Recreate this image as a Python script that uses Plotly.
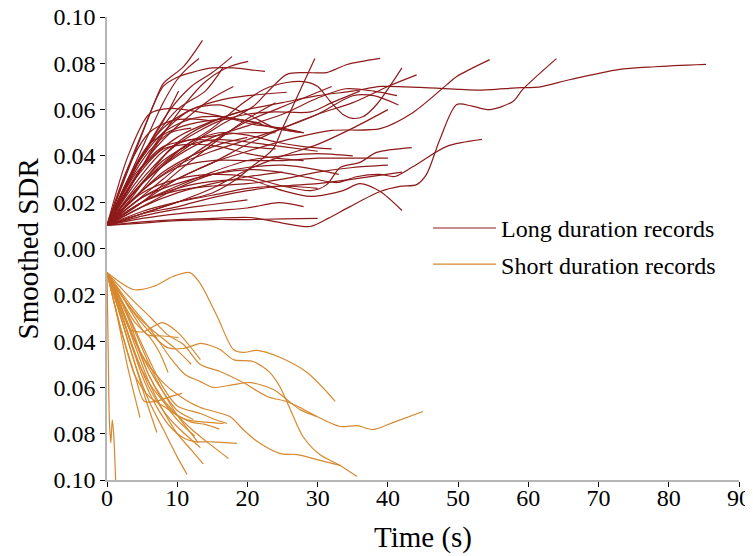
import plotly.graph_objects as go

# ---------------- Long duration records (time s, smoothed SDR) ----------------
L01_T = [0, 5, 10, 15, 20, 25, 30, 35, 39, 44.6, 50.3, 53, 59, 61.5, 66, 72.8, 78, 85.3]
L01_V = [.01, .035, .048, .055, .06, .063, .066, .068, .07, .0696, .0687, .0684, .0695, .0697, .073, .0773, .0785, .0795]
L02_T = [0, 5, 10, 15, 20.4, 25, 28.9, 31.5, 34.6, 38.9, 41.7, 44.1, 45.5, 47.4, 49.8, 52, 54.5, 57.8, 59.2, 64]
L02_V = [.01, .0115, .0125, .013, .0134, .011, .0095, .013, .0181, .0246, .0268, .0276, .032, .0471, .0622, .0615, .060, .0635, .0687, .082]
L03_T = [0, 5, 10, 15, 20, 27, 32, 38.9, 43.6, 48.4, 49.8, 54.5]
L03_V = [.01, .022, .03, .037, .042, .048, .051, .0518, .0588, .0708, .0743, .0816]
L04_T = [0, 5, 10, 15, 20, 25, 29, 31.3, 33.2, 36, 38.4, 43.4]
L04_V = [.01, .024, .03, .032, .031, .027, .025, .0276, .035, .0372, .0415, .0436]
L05_T = [0, 5, 10, 15, 20.4, 25.1, 28.5, 32.8, 35.5, 38.9, 41, 43.6, 48.4, 53.4]
L05_V = [.01, .022, .028, .032, .0341, .0328, .0307, .0285, .031, .032, .0311, .0354, .0441, .0471]
L06_T = [0, 5, 10, 15, 20.4, 25, 29, 33.6, 36, 38.9, 42]
L06_V = [.01, .02, .026, .029, .0295, .025, .0225, .025, .028, .0246, .0164]
L07_T = [0, 4, 8, 12, 16, 20.8, 23.2, 25.6, 28, 31.3, 34.2, 38.9]
L07_V = [.01, .025, .036, .045, .053, .0613, .0687, .0752, .076, .076, .0795, .0821]
L08_T = [0, 5, 10, 15, 18, 20.5, 23.6, 25, 27, 29.6]
L08_V = [.01, .015, .02, .024, .029, .035, .0428, .052, .065, .0821]
L09_T = [0, 5, 10, 15, 19, 22.3, 25.6, 28, 30, 31.8, 33.6, 35, 36.5, 38.4, 42]
L09_V = [.01, .028, .042, .052, .062, .0687, .0717, .0721, .07, .0635, .0579, .0562, .057, .0622, .078]
L10_T = [0, 5, 10, 16, 20, 24.5, 28]
L10_V = [.01, .013, .015, .0165, .0175, .0198, .0181]
L11_T = [0, 5, 10, 15, 20, 25, 30, 34, 38, 41.3]
L11_V = [.01, .028, .04, .048, .053, .058, .065, .069, .068, .066]
L12_T = [0, 5, 10, 15, 20, 25, 30, 35, 38, 41.5]
L12_V = [.01, .025, .036, .042, .047, .052, .058, .066, .066, .062]
L13_T = [0, 5, 10, 15, 20, 25, 30, 35, 40, 44.1]
L13_V = [.01, .02, .03, .037, .045, .052, .058, .063, .07, .075]
L14_T = [0, 5, 10, 16, 20, 24, 29, 32, 36]
L14_V = [.01, .03, .045, .055, .058, .059, .059, .063, .068]
L15_T = [0, 4, 8, 12, 16, 20, 25.6]
L15_V = [.01, .035, .052, .06, .064, .066, .0675]
L16_T = [0, 4.7, 7.9, 8.6, 10.9, 13.6]
L16_V = [.01, .0471, .0708, .073, .0786, .0899]
L17_T = [0, 3, 6, 8, 10, 11.5, 13.1]
L17_V = [.01, .03, .05, .063, .073, .078, .0821]
L18_T = [0, 5, 9, 12, 15, 17.8]
L18_V = [.01, .04, .06, .07, .076, .0829]
L19_T = [0, 5, 10, 14, 17, 20.1]
L19_V = [.01, .035, .058, .072, .078, .0808]
L20_T = [0, 3, 5, 8, 10, 12, 15, 18, 21, 22.5]
L20_V = [.01, .035, .05, .07, .074, .076, .078, .078, .077, .0765]
L21_T = [0, 5, 10, 14, 16.5]
L21_V = [.01, .04, .06, .068, .078]
L22_T = [0, 4, 8, 10.2]
L22_V = [.01, .035, .055, .068]
L23_T = [0, 3, 6, 9, 13, 17, 21, 25, 28]
L23_V = [.01, .04, .058, .0605, .059, .0565, .0535, .052, .05]
L24_T = [0, 4, 8, 12, 16, 20, 24]
L24_V = [.01, .028, .042, .047, .046, .044, .043]
L25_T = [0, 4, 8, 12, 16, 20, 25, 30]
L25_V = [.01, .025, .038, .045, .047, .046, .044, .042]
L26_T = [0, 3, 6, 10, 14, 18, 22]
L26_V = [.01, .03, .045, .052, .055, .056, .054]
L27_T = [0, 4, 8, 12, 16, 20]
L27_V = [.01, .022, .033, .04, .045, .048]
L28_T = [0, 5, 10, 15, 20, 25, 30, 35]
L28_V = [.01, .02, .027, .033, .038, .04, .041, .04]
L29_T = [0, 5, 10, 15, 20, 25]
L29_V = [.01, .018, .024, .028, .031, .033]
L30_T = [0, 5, 10, 15, 20, 25, 30]
L30_V = [.01, .016, .02, .023, .026, .027, .026]
L31_T = [0, 5, 10, 15, 20]
L31_V = [.01, .014, .017, .019, .021]
L32_T = [0, 4, 8, 12, 16, 20, 24, 28]
L32_V = [.01, .03, .05, .06, .062, .058, .052, .05]
L33_T = [0, 3, 6, 9, 12, 15]
L33_V = [.01, .035, .05, .055, .056, .055]
L34_T = [0, 3, 6, 9, 12, 15, 18]
L34_V = [.01, .025, .04, .05, .058, .065, .07]
L35_T = [0, 4, 8, 12, 16, 20, 24, 28, 32]
L35_V = [.01, .02, .03, .04, .048, .055, .06, .065, .07]
L36_T = [0, 5, 10, 15, 20, 25, 30, 35, 40]
L36_V = [.01, .015, .02, .026, .034, .04, .045, .052, .06]
L37_T = [0, 4, 8, 12, 16, 20, 24, 28]
L37_V = [.01, .03, .043, .045, .044, .041, .039, .038]
L38_T = [0, 5, 10, 15, 20, 25, 30, 35, 40]
L38_V = [.01, .025, .035, .038, .038, .038, .039, .039, .039]
L39_T = [0, 5, 10, 15, 20, 25, 30]
L39_V = [.01, .011, .012, .0125, .0125, .0128, .013]
L40_T = [0, 3, 6, 9, 12, 16, 20]
L40_V = [.01, .02, .032, .043, .05, .056, .06]
L41_T = [0, 4, 8, 12, 16, 20, 24, 28, 32]
L41_V = [.01, .022, .036, .046, .05, .049, .046, .044, .043]
L42_T = [0, 5, 10, 15, 20, 24]
L42_V = [.01, .02, .033, .045, .056, .063]
L43_T = [0, 3, 6, 9, 12]
L43_V = [.01, .028, .042, .05, .052]
L44_T = [0, 5, 10, 15, 20, 25, 30, 33]
L44_V = [.01, .018, .026, .032, .035, .036, .034, .032]
L45_T = [0, 5, 10, 15, 20, 25, 30, 35, 40]
L45_V = [.01, .02, .025, .027, .028, .03, .033, .035, .036]
L46_T = [0, 5, 10, 15, 20, 25, 30, 35, 42]
L46_V = [.01, .015, .018, .022, .025, .027, .028, .03, .033]
L47_T = [0, 4, 8, 12, 16, 20, 24, 28]
L47_V = [.01, .035, .05, .056, .057, .055, .052, .05]
L48_T = [0, 4, 8, 12, 16, 20, 24]
L48_V = [.01, .032, .044, .047, .049, .05, .05]

# ---------------- Short duration records (time s, smoothed SDR, drawn downward) ----------------
S01_T = [0, 3.75, 6.6, 9.4, 11.8, 13.2, 15.7, 18, 19.4, 21.4, 24.6, 28.5, 32.5]
S01_V = [.0104, .0177, .0164, .0121, .0104, .0147, .0294, .0436, .0449, .044, .047, .0536, .066]
S02_T = [0, 3.75, 6.15, 8.6, 10.9, 13.3, 14.7, 16.1, 18, 20.8, 23.2, 24.6, 26.1, 27.9, 30.3, 33.2, 35.6]
S02_V = [.0104, .0276, .0363, .0428, .0432, .041, .0419, .0436, .048, .0488, .0536, .0596, .0695, .0812, .089, .0937, .0985]
S03_T = [0, 3.3, 6.2, 8.6, 10.9, 13.3, 16.1, 19.4, 22.8, 25.6, 27.5, 29.9, 33.2, 35.6, 37.9, 40.7, 45]
S03_V = [.0104, .0212, .0298, .0372, .0415, .0501, .0531, .0579, .0639, .0661, .0687, .0726, .0769, .0765, .0782, .0752, .0704]
S04_T = [0, 3.3, 6.2, 9, 11.1, 13.3, 15.1, 18, 20.4, 23.7, 25.6, 27.5, 29.9]
S04_V = [.0104, .0242, .035, .0471, .0544, .0575, .06, .0588, .0579, .0609, .0652, .0696, .0726]
S05_T = [0, 2.6, 5.4, 8.3, 11.1, 13.3, 17.5, 19.4, 21.4, 24.7, 27.1, 29.9, 33.2]
S05_V = [.0104, .0307, .048, .0588, .0652, .0687, .0726, .0782, .0834, .0886, .089, .0912, .0937]
S06_T = [0, 0.15, 0.35, 0.55, 0.75, 0.95, 1.35]
S06_V = [.0104, .04, .075, .084, .074, .08, .11]
S07_T = [0, 1.5, 3, 4.7]
S07_V = [.0104, .03, .052, .073]
S08_T = [0, 2, 4, 5.5, 7.1]
S08_V = [.0104, .03, .05, .065, .0795]
S09_T = [0, 2, 4, 6, 8, 10, 11.4]
S09_V = [.0104, .03, .05, .066, .078, .09, .0976]
S10_T = [0, 2, 4, 6, 8, 10, 12, 13.7]
S10_V = [.0104, .025, .042, .058, .07, .08, .087, .093]
S11_T = [0, 3, 6, 8, 10, 12, 14, 17.3]
S11_V = [.0104, .03, .055, .065, .072, .078, .083, .0907]
S12_T = [0, 2.5, 5, 7, 9, 11, 12.5, 15, 18.5]
S12_V = [.0104, .032, .055, .068, .077, .082, .0834, .0835, .0842]
S13_T = [0, 2, 4, 6, 8, 10, 11.4, 14, 16.6]
S13_V = [.0104, .028, .046, .058, .066, .072, .074, .075, .0756]
S14_T = [0, 2, 4, 6, 8, 10, 12.3]
S14_V = [.0104, .025, .04, .052, .062, .07, .0739]
S15_T = [0, 2, 4, 5.3, 7, 9, 10.7]
S15_V = [.0104, .035, .055, .066, .066, .064, .0626]
S16_T = [0, 2, 3.3, 5.1, 7.9, 10, 13.3]
S16_V = [.0104, .025, .035, .036, .032, .036, .048]
S17_T = [0, 2, 4, 5.7, 8, 10.2]
S17_V = [.0104, .02, .03, .0372, .0378, .0385]
S18_T = [0, 2, 4, 6, 7.5, 8.7]
S18_V = [.0104, .022, .032, .038, .045, .0536]
S19_T = [0, 2, 4, 6, 8, 10, 12.5]
S19_V = [.0104, .025, .04, .055, .066, .074, .081]
S20_T = [0, 2, 4, 6, 8, 10, 13.3]
S20_V = [.0104, .028, .045, .06, .07, .077, .086]
S21_T = [0, 2, 4, 6, 8, 10, 12, 13]
S21_V = [.0104, .022, .036, .05, .062, .072, .08, .084]
S22_T = [0, 2, 4, 6, 8, 10, 13.3, 15.5, 17.1]
S22_V = [.0104, .022, .035, .048, .06, .068, .0713, .074, .0756]
S23_T = [0, 2, 4, 6, 8, 10, 12]
S23_V = [.0104, .02, .028, .034, .039, .044, .05]
S24_T = [0, 2, 4, 6, 8, 10, 12, 14, 16]
S24_V = [.0104, .035, .055, .064, .068, .072, .075, .076, .078]

LONG_CURVES = [
    (L01_T, L01_V), (L02_T, L02_V), (L03_T, L03_V), (L04_T, L04_V), (L05_T, L05_V),
    (L06_T, L06_V), (L07_T, L07_V), (L08_T, L08_V), (L09_T, L09_V), (L10_T, L10_V),
    (L11_T, L11_V), (L12_T, L12_V), (L13_T, L13_V), (L14_T, L14_V), (L15_T, L15_V),
    (L16_T, L16_V), (L17_T, L17_V), (L18_T, L18_V), (L19_T, L19_V), (L20_T, L20_V),
    (L21_T, L21_V), (L22_T, L22_V), (L23_T, L23_V), (L24_T, L24_V), (L25_T, L25_V),
    (L26_T, L26_V), (L27_T, L27_V), (L28_T, L28_V), (L29_T, L29_V), (L30_T, L30_V),
    (L31_T, L31_V), (L32_T, L32_V), (L33_T, L33_V), (L34_T, L34_V), (L35_T, L35_V),
    (L36_T, L36_V), (L37_T, L37_V), (L38_T, L38_V), (L39_T, L39_V), (L40_T, L40_V),
    (L41_T, L41_V), (L42_T, L42_V), (L43_T, L43_V), (L44_T, L44_V), (L45_T, L45_V),
    (L46_T, L46_V), (L47_T, L47_V), (L48_T, L48_V),
]
SHORT_CURVES = [
    (S01_T, S01_V), (S02_T, S02_V), (S03_T, S03_V), (S04_T, S04_V), (S05_T, S05_V),
    (S06_T, S06_V), (S07_T, S07_V), (S08_T, S08_V), (S09_T, S09_V), (S10_T, S10_V),
    (S11_T, S11_V), (S12_T, S12_V), (S13_T, S13_V), (S14_T, S14_V), (S15_T, S15_V),
    (S16_T, S16_V), (S17_T, S17_V), (S18_T, S18_V), (S19_T, S19_V), (S20_T, S20_V),
    (S21_T, S21_V), (S22_T, S22_V), (S23_T, S23_V), (S24_T, S24_V),
]

Y_TICKS = [-0.10, -0.08, -0.06, -0.04, -0.02, 0.00, 0.02, 0.04, 0.06, 0.08, 0.10]
Y_TICK_TEXT = ["0.10", "0.08", "0.06", "0.04", "0.02", "0.00", "0.02", "0.04", "0.06", "0.08", "0.10"]
X_TICKS = [0, 10, 20, 30, 40, 50, 60, 70, 80, 90]

LONG_COLOR = "#8e1b1b"
SHORT_COLOR = "#d6892f"
FONT = "Liberation Serif, Times New Roman, serif"

fig = go.Figure()
for i, (t, v) in enumerate(LONG_CURVES):
    fig.add_trace(go.Scatter(
        x=t, y=v, mode="lines", name="Long duration records", legendgroup="long",
        showlegend=(i == 0), hoverinfo="skip",
        line=dict(color=LONG_COLOR, width=1.2, shape="spline", smoothing=0.8)))
for i, (t, v) in enumerate(SHORT_CURVES):
    fig.add_trace(go.Scatter(
        x=t, y=[-a for a in v], mode="lines", name="Short duration records", legendgroup="short",
        showlegend=(i == 0), hoverinfo="skip",
        line=dict(color=SHORT_COLOR, width=1.2, shape="spline", smoothing=0.8)))

# page body has an 8px margin, so the figure is sized 8px smaller and offsets reduced
fig.update_layout(
    width=745, height=548,
    margin=dict(l=99, r=14, t=9, b=76),
    paper_bgcolor="white", plot_bgcolor="white",
    font=dict(family=FONT, size=24, color="black"),
    legend=dict(x=0.508, y=0.592, xanchor="left", yanchor="top",
                font=dict(family=FONT, size=24, color="black"),
                bgcolor="rgba(0,0,0,0)", tracegroupgap=2, itemwidth=63),
    showlegend=True,
    annotations=[
        dict(text="Time (s)", xref="paper", yref="paper", x=0.5, y=0, xanchor="center",
             yanchor="middle", yshift=-57, showarrow=False,
             font=dict(family=FONT, size=29, color="black")),
        dict(text="Smoothed SDR", xref="paper", yref="paper", x=0, y=0.5, xanchor="center",
             yanchor="middle", xshift=-80, textangle=-90, showarrow=False,
             font=dict(family=FONT, size=29, color="black")),
    ],
)
fig.update_xaxes(
    range=[0, 90], tickvals=X_TICKS, ticks="outside", ticklen=5, tickcolor="black",
    showline=True, linecolor="#b5b5b5", linewidth=1.5, showgrid=False, zeroline=False,
    automargin=False, ticklabelstandoff=-10, ticklabeloverflow="allow",
    tickfont=dict(family=FONT, size=24, color="black"),
)
fig.update_yaxes(
    range=[-0.10, 0.10], tickvals=Y_TICKS, ticktext=Y_TICK_TEXT, ticks="outside", ticklen=5,
    tickcolor="black", showline=True, linecolor="#b5b5b5", linewidth=1.5, showgrid=False,
    zeroline=False, automargin=False, ticklabelstandoff=0, ticklabeloverflow="allow",
    tickfont=dict(family=FONT, size=24, color="black"),
)

fig.write_html("out.html")
